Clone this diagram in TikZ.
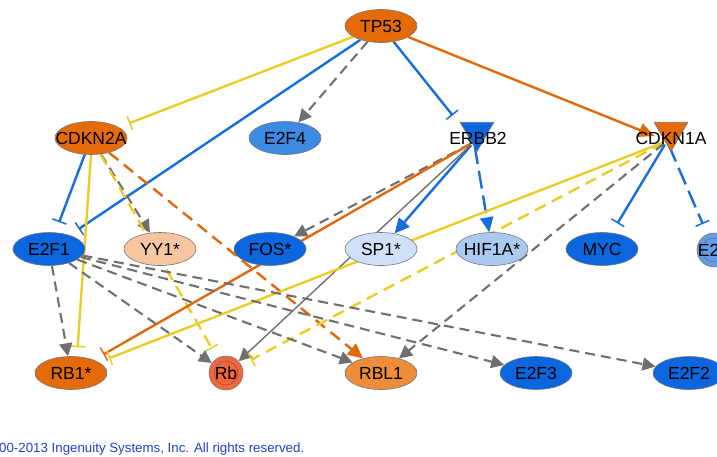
\documentclass[tikz,border=0pt]{standalone}
\usepackage{fontspec}
\setmainfont{Liberation Sans}
\usetikzlibrary{arrows.meta,shapes.geometric}
\pgfdeclarelayer{bg}
\pgfsetlayers{bg,main}
\definecolor{cyel}{RGB}{234,206,40}
\definecolor{cblu}{RGB}{22,110,222}
\definecolor{corg}{RGB}{226,104,14}
\definecolor{cgry}{RGB}{112,112,112}
\definecolor{nborder}{RGB}{120,120,120}
\definecolor{forg}{RGB}{228,106,10}
\definecolor{frbl}{RGB}{238,140,58}
\definecolor{fpeach}{RGB}{246,198,162}
\definecolor{frb}{RGB}{236,104,62}
\definecolor{frbin}{RGB}{170,70,45}
\definecolor{fblu}{RGB}{12,102,222}
\definecolor{fefour}{RGB}{60,138,226}
\definecolor{fsp}{RGB}{206,225,247}
\definecolor{fhif}{RGB}{170,202,240}
\definecolor{fex}{RGB}{104,156,226}
\definecolor{fexin}{RGB}{70,110,180}
\definecolor{ccopy}{RGB}{34,64,200}
\begin{document}
\begin{tikzpicture}[x=1pt,y=-1pt,
  lbl/.style={font=\fontsize{17.5}{20}\selectfont, text=black, inner sep=0pt},
  gene/.style={ellipse, draw=nborder, line width=0.6pt, minimum width=72pt, minimum height=33pt, inner sep=0pt, label={[lbl]center:#1}},
  tri/.style={regular polygon, regular polygon sides=3, shape border rotate=180, draw=nborder, line width=0.6pt, minimum size=39pt, inner sep=0pt},
  hub/.style={circle, minimum size=8pt, inner sep=0pt, draw=none},
  rel/.style={line width=2.4pt},
  inh/.style={rel, -{Bar[width=15pt, line width=1.5pt]}, shorten >=11pt},
  act/.style={rel, -{Triangle[length=13pt, width=13pt]}},
  yinh/.style={inh, cyel},
  yinhd/.style={inh, cyel, dash pattern=on 12pt off 7pt},
  binh/.style={inh, cblu},
  binhd/.style={inh, cblu, dash pattern=on 18pt off 7pt},
  oinh/.style={inh, corg},
  oact/.style={act, corg, -{Triangle[length=16pt, width=14pt]}},
  oactd/.style={act, corg, dash pattern=on 12pt off 7pt, -{Triangle[length=15pt, width=14pt]}},
  bact/.style={act, cblu, -{Triangle[length=15pt, width=14pt]}},
  bactd/.style={act, cblu, dash pattern=on 18pt off 7pt, -{Triangle[length=15pt, width=13pt]}},
  gact/.style={act, cgry, line width=2.1pt, dash pattern=on 10pt off 6pt},
  gthin/.style={act, cgry, line width=1.4pt}
]
\useasboundingbox (0,0) rectangle (717,456);

% nodes
\node[gene=TP53, fill=forg] (tp53) at (381,26) {};
\node[gene=CDKN2A, fill=forg] (cdkn2a) at (91,138) {};
\node[gene=E2F4, fill=fefour] (e2f4) at (285,138) {};
\node[tri, fill=fblu] (erbbtri) at (477,132) {};
\node[hub] (erbb2) at (474,142) {};
\node[lbl] (erbblbl) at (478,138) {ERBB2};
\node[tri, fill=forg] (cdkntri) at (671,132) {};
\node[hub] (cdkn1a) at (667,141) {};
\node[lbl] (cdknlbl) at (671,138) {CDKN1A};

\node[gene=E2F1, fill=fblu] (e2f1) at (49,249) {};
\node[gene=YY1*, fill=fpeach] (yy1) at (160,249) {};
\node[gene=FOS*, fill=fblu] (fos) at (270,249) {};
\node[gene=SP1*, fill=fsp] (sp1) at (381,249) {};
\node[gene=HIF1A*, fill=fhif] (hif1a) at (492,249) {};
\node[gene=MYC, fill=fblu] (myc) at (602,249) {};
\node[circle, draw=nborder, line width=0.6pt, minimum size=34pt, inner sep=0pt, fill=fex] (e2fx) at (714,250) {};
\draw[fexin, line width=0.5pt] (e2fx.center) circle (12pt);
\node[lbl] (e2fxlbl) at (e2fx.center) {E2F};

\node[gene=RB1*, fill=forg] (rb1) at (71,373) {};
\node[circle, draw=nborder, line width=0.6pt, minimum size=34pt, inner sep=0pt, fill=frb] (rb) at (226,373) {};
\draw[frbin, line width=0.5pt] (rb.center) circle (12pt);
\node[lbl] (rblbl) at (rb.center) {Rb};
\node[gene=RBL1, fill=frbl] (rbl1) at (381,373) {};
\node[gene=E2F3, fill=fblu] (e2f3) at (536,373) {};
\node[gene=E2F2, fill=fblu] (e2f2) at (689,373) {};

\node[anchor=west, inner sep=0pt, text=ccopy, font=\fontsize{13.3}{15}\selectfont] (copy) at (-1,449) {00-2013 Ingenuity Systems, Inc. All rights reserved.};

% edges
\begin{pgfonlayer}{bg}
\draw[yinh] (tp53) -- (cdkn2a);
\draw[binh] (tp53) -- (e2f1);
\draw[gact] (tp53) -- (e2f4);
\draw[binh, shorten >=30pt] (tp53) -- (erbb2);
\draw[oact, shorten >=9pt] (tp53) -- (cdkn1a);
\draw[binh] (cdkn2a) -- (e2f1);
\draw[yinh, shorten >=9pt] (cdkn2a.south) -- ([xshift=6pt]rb1.north);
\draw[gact] (cdkn2a) -- (yy1);
\draw[yinhd] (cdkn2a) -- (rb);
\draw[oactd] (cdkn2a) -- (rbl1);
\draw[gact] (erbb2) -- (fos);
\draw[oinh] (erbb2) -- (rb1);
\draw[bact] (erbb2) -- (sp1);
\draw[bactd] (erbb2) -- (hif1a);
\draw[gthin] (erbb2) -- (rb);
\draw[yinh] (cdkn1a) -- (rb1);
\draw[yinhd] (cdkn1a) -- (rb);
\draw[gact] (cdkn1a) -- (rbl1);
\draw[binh] (cdkn1a) -- (myc);
\draw[binhd] (cdkn1a) -- (e2fx);
\draw[gact] (e2f1) -- (rb1);
\draw[gact] (e2f1) -- (rb);
\draw[gact] (e2f1) -- (rbl1);
\draw[gact] (e2f1) -- (e2f3);
\draw[gact] (e2f1) -- (e2f2);
\end{pgfonlayer}
\end{tikzpicture}
\end{document}
